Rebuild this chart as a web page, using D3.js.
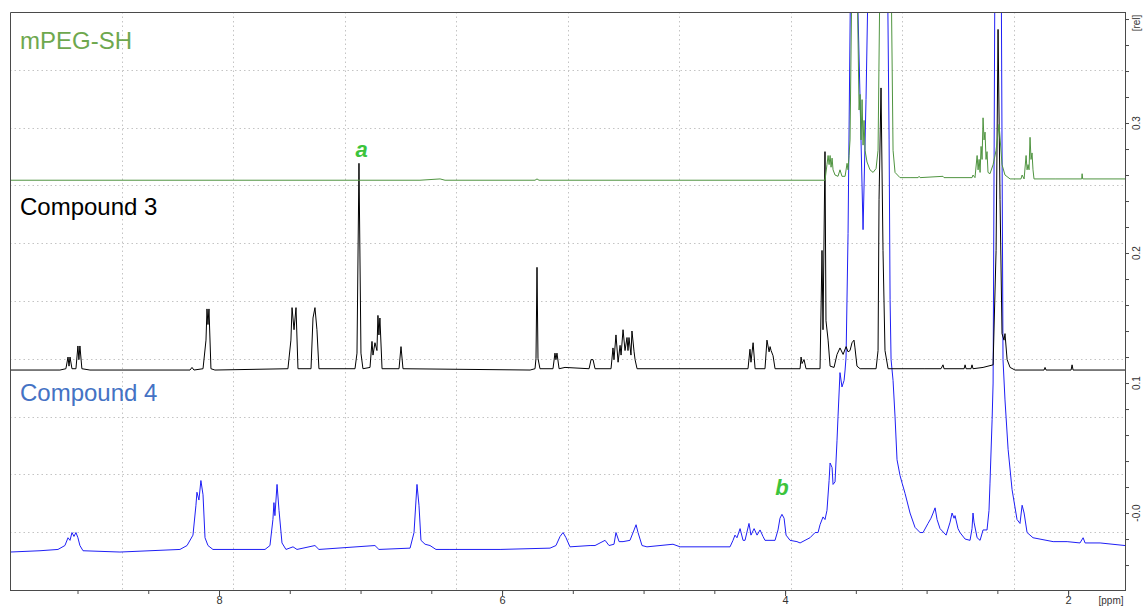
<!DOCTYPE html>
<html>
<head>
<meta charset="utf-8">
<script src="https://cdn.jsdelivr.net/npm/d3@7"></script>
<style>
  body { margin: 0; background: #fff; }
  svg { display: block; font-family: "Liberation Sans", Arial, sans-serif; }
</style>
</head>
<body>
<svg width="1143" height="606"></svg>
<script>
// plot limits
const ppmRange = [9.477, 1.598];
const relRange = [-0.0592, 0.3854];

const ppmLabels = [8, 6, 4, 2];
const relLabels = [0.3, 0.2, 0.1, 0.0];

// spectra: [ppm, rel]
const mpegSH = [[9.477,0.256],[6.580,0.256],[6.438,0.257],[6.403,0.256],[5.767,0.256],[5.753,0.257],[5.739,0.256],[3.718,0.256],[3.704,0.268],[3.696,0.275],[3.689,0.268],[3.682,0.275],[3.675,0.266],[3.668,0.273],[3.661,0.264],[3.647,0.260],[3.626,0.259],[3.612,0.264],[3.598,0.259],[3.576,0.259],[3.562,0.269],[3.555,0.264],[3.548,0.275],[3.541,0.287],[3.527,0.42],[3.492,0.42],[3.477,0.310],[3.470,0.322],[3.463,0.287],[3.456,0.318],[3.449,0.283],[3.442,0.302],[3.435,0.279],[3.421,0.270],[3.400,0.264],[3.378,0.262],[3.357,0.265],[3.343,0.279],[3.329,0.42],[3.251,0.42],[3.237,0.279],[3.223,0.262],[3.188,0.258],[3.117,0.258],[3.060,0.258],[3.053,0.259],[3.046,0.258],[2.884,0.259],[2.877,0.258],[2.679,0.258],[2.672,0.260],[2.658,0.258],[2.643,0.275],[2.636,0.264],[2.629,0.272],[2.622,0.262],[2.615,0.282],[2.608,0.272],[2.601,0.304],[2.594,0.287],[2.587,0.293],[2.580,0.272],[2.573,0.278],[2.566,0.262],[2.552,0.261],[2.530,0.268],[2.509,0.279],[2.488,0.299],[2.467,0.268],[2.446,0.260],[2.410,0.257],[2.333,0.257],[2.325,0.260],[2.311,0.257],[2.297,0.275],[2.290,0.264],[2.283,0.268],[2.276,0.264],[2.269,0.289],[2.262,0.272],[2.255,0.277],[2.248,0.264],[2.241,0.257],[2.092,0.257],[1.904,0.257],[1.901,0.261],[1.897,0.257],[1.598,0.257]];

const compound3 = [[9.477,0.110],[9.124,0.110],[9.082,0.111],[9.067,0.120],[9.060,0.113],[9.053,0.120],[9.039,0.111],[9.011,0.111],[8.997,0.1285],[8.990,0.118],[8.983,0.1285],[8.969,0.111],[8.912,0.110],[8.205,0.110],[8.191,0.112],[8.177,0.110],[8.113,0.111],[8.092,0.133],[8.085,0.157],[8.078,0.145],[8.071,0.157],[8.057,0.111],[8.029,0.110],[7.513,0.111],[7.492,0.133],[7.484,0.158],[7.470,0.141],[7.456,0.158],[7.442,0.111],[7.350,0.111],[7.336,0.150],[7.322,0.158],[7.308,0.141],[7.294,0.111],[7.039,0.111],[7.025,0.123],[7.011,0.269],[6.997,0.123],[6.983,0.111],[6.933,0.112],[6.919,0.132],[6.912,0.1215],[6.898,0.131],[6.884,0.125],[6.877,0.152],[6.870,0.137],[6.863,0.150],[6.848,0.111],[6.728,0.111],[6.714,0.128],[6.700,0.111],[5.802,0.110],[5.767,0.111],[5.760,0.119],[5.753,0.189],[5.746,0.119],[5.732,0.111],[5.640,0.111],[5.626,0.123],[5.619,0.118],[5.612,0.123],[5.597,0.111],[5.555,0.112],[5.385,0.111],[5.371,0.118],[5.357,0.118],[5.343,0.111],[5.230,0.111],[5.216,0.127],[5.209,0.118],[5.195,0.137],[5.180,0.116],[5.166,0.129],[5.159,0.1215],[5.145,0.141],[5.131,0.125],[5.117,0.135],[5.110,0.125],[5.103,0.135],[5.089,0.1215],[5.082,0.140],[5.067,0.124],[5.060,0.118],[5.046,0.111],[4.262,0.111],[4.248,0.126],[4.241,0.116],[4.226,0.131],[4.212,0.111],[4.142,0.111],[4.128,0.133],[4.113,0.124],[4.106,0.128],[4.099,0.125],[4.085,0.121],[4.071,0.111],[3.894,0.111],[3.887,0.120],[3.880,0.115],[3.866,0.118],[3.852,0.111],[3.753,0.111],[3.739,0.202],[3.732,0.141],[3.718,0.278],[3.711,0.148],[3.696,0.133],[3.682,0.113],[3.654,0.112],[3.633,0.122],[3.612,0.127],[3.590,0.122],[3.569,0.128],[3.555,0.124],[3.541,0.125],[3.527,0.131],[3.513,0.133],[3.506,0.127],[3.492,0.113],[3.470,0.111],[3.357,0.111],[3.343,0.125],[3.336,0.241],[3.322,0.327],[3.308,0.202],[3.294,0.125],[3.272,0.111],[3.018,0.111],[2.898,0.111],[2.884,0.114],[2.877,0.111],[2.735,0.111],[2.728,0.114],[2.721,0.111],[2.686,0.111],[2.679,0.114],[2.672,0.111],[2.601,0.112],[2.530,0.114],[2.509,0.202],[2.495,0.372],[2.481,0.241],[2.467,0.138],[2.453,0.133],[2.446,0.138],[2.431,0.118],[2.410,0.112],[2.375,0.110],[2.170,0.110],[2.163,0.112],[2.156,0.110],[1.979,0.110],[1.972,0.114],[1.965,0.110],[1.598,0.110]];

const compound4 = [[9.477,-0.030],[9.265,-0.029],[9.138,-0.028],[9.089,-0.025],[9.067,-0.019],[9.053,-0.021],[9.039,-0.015],[9.025,-0.018],[9.011,-0.015],[8.997,-0.019],[8.983,-0.025],[8.961,-0.029],[8.700,-0.030],[8.276,-0.028],[8.226,-0.025],[8.184,-0.017],[8.163,0.006],[8.156,0.016],[8.142,0.010],[8.128,0.025],[8.113,0.014],[8.099,-0.019],[8.078,-0.025],[8.043,-0.028],[7.675,-0.028],[7.640,-0.025],[7.619,-0.005],[7.612,0.008],[7.605,-0.002],[7.590,0.022],[7.576,0.002],[7.555,-0.023],[7.527,-0.028],[7.477,-0.026],[7.449,-0.028],[7.322,-0.025],[7.294,-0.028],[6.898,-0.025],[6.870,-0.028],[6.650,-0.027],[6.622,-0.015],[6.608,0.010],[6.601,0.022],[6.587,0.006],[6.573,-0.021],[6.544,-0.024],[6.509,-0.025],[6.467,-0.028],[6.368,-0.028],[6.014,-0.028],[5.661,-0.027],[5.619,-0.025],[5.590,-0.018],[5.569,-0.015],[5.548,-0.019],[5.520,-0.026],[5.378,-0.025],[5.343,-0.025],[5.272,-0.021],[5.244,-0.025],[5.209,-0.024],[5.195,-0.015],[5.173,-0.022],[5.145,-0.022],[5.096,-0.021],[5.067,-0.013],[5.053,-0.009],[5.039,-0.015],[5.011,-0.025],[4.976,-0.026],[4.792,-0.024],[4.742,-0.026],[4.389,-0.026],[4.368,-0.021],[4.354,-0.017],[4.340,-0.019],[4.318,-0.012],[4.297,-0.021],[4.283,-0.021],[4.255,-0.008],[4.241,-0.017],[4.219,-0.012],[4.198,-0.017],[4.177,-0.013],[4.156,-0.018],[4.142,-0.021],[4.071,-0.021],[4.050,-0.013],[4.036,-0.004],[4.022,-0.001],[4.007,-0.004],[3.993,-0.017],[3.965,-0.021],[3.916,-0.022],[3.894,-0.023],[3.859,-0.021],[3.824,-0.019],[3.788,-0.015],[3.767,-0.015],[3.753,-0.009],[3.732,-0.003],[3.718,-0.005],[3.704,0.002],[3.689,0.025],[3.682,0.0385],[3.668,0.035],[3.661,0.022],[3.647,0.024],[3.633,0.056],[3.626,0.074],[3.612,0.108],[3.598,0.097],[3.583,0.102],[3.576,0.110],[3.569,0.120],[3.555,0.215],[3.534,0.45],[3.499,0.45],[3.470,0.318],[3.449,0.218],[3.428,0.318],[3.407,0.45],[3.279,0.45],[3.265,0.287],[3.258,0.164],[3.251,0.118],[3.237,0.102],[3.223,0.074],[3.209,0.041],[3.188,0.029],[3.173,0.023],[3.152,0.015],[3.117,0.000],[3.082,-0.011],[3.046,-0.015],[3.025,-0.015],[2.990,-0.008],[2.969,-0.004],[2.954,0.000],[2.940,0.004],[2.926,-0.005],[2.905,-0.012],[2.862,-0.017],[2.834,-0.007],[2.820,0.000],[2.806,-0.004],[2.799,-0.002],[2.778,-0.012],[2.764,-0.015],[2.728,-0.020],[2.693,-0.021],[2.679,-0.012],[2.672,0.000],[2.665,-0.007],[2.643,-0.019],[2.622,-0.021],[2.601,-0.013],[2.573,-0.013],[2.559,0.002],[2.552,0.023],[2.537,0.072],[2.530,0.100],[2.516,0.45],[2.474,0.45],[2.460,0.118],[2.446,0.087],[2.424,0.049],[2.396,0.018],[2.361,-0.005],[2.340,-0.008],[2.325,0.006],[2.311,0.000],[2.290,-0.015],[2.248,-0.019],[2.106,-0.022],[2.007,-0.022],[1.916,-0.023],[1.894,-0.019],[1.880,-0.023],[1.774,-0.023],[1.598,-0.025]];

// trace names and peak letters
const traceNames = ["mPEG-SH", "Compound 3", "Compound 4"];
const peakNotes = [{ label: "a", ppm: 6.993, rel: 0.2735 }, { label: "b", ppm: 4.022, rel: 0.0135 }];

function drawSpectra() {
    let svg = d3.select("svg");
    svg.selectAll('*').remove();

    let area = { left: 10, right: 1125, top: 12, bottom: 590 };

    let scX = d3.scaleLinear().domain(ppmRange).range([area.left, area.right]);
    let scY = d3.scaleLinear().domain(relRange).range([area.bottom, area.top]);

    // off-scale peaks are cut at the frame
    svg.append("defs").append("clipPath")
        .attr("id", "plot-clip")
        .append("rect")
        .attr("x", area.left).attr("y", area.top)
        .attr("width", area.right - area.left)
        .attr("height", area.bottom - area.top);

    drawGrid(svg, area);

    const lineGen = d3.line()
        .x(d => scX(d[0]))
        .y(d => scY(d[1]));

    const traces = [
        { data: compound4, color: "#1f1ff5" },
        { data: compound3, color: "#000000" },
        { data: mpegSH, color: "#4f9440" }
    ];
    let gLines = svg.append("g").attr("clip-path", "url(#plot-clip)");
    traces.forEach(t => {
        gLines.append("path")
            .datum(t.data)
            .attr("d", lineGen)
            .style("fill", "none")
            .style("stroke", t.color)
            .style("stroke-width", 1)
            .style("stroke-linejoin", "round");
    });

    drawAxes(svg, area, scX, scY);

    // trace titles
    const titleColors = ["#6ea84e", "#000000", "#4472c4"];
    const titleY = [49, 215, 401];
    traceNames.forEach((name, i) => {
        svg.append("text")
            .attr("x", 20)
            .attr("y", titleY[i])
            .style("font-size", "24px")
            .style("fill", titleColors[i])
            .text(name);
    });

    // peak letters
    svg.selectAll(".note")
        .data(peakNotes)
        .enter()
        .append("text")
        .attr("x", d => scX(d.ppm))
        .attr("y", d => scY(d.rel))
        .attr("text-anchor", "middle")
        .style("font-size", "22px")
        .style("font-weight", "bold")
        .style("font-style", "italic")
        .style("fill", "#3cc43c")
        .text(d => d.label);
}

function drawGrid(svg, area) {
    // TopSpin style grid: 10 equal divisions of the frame
    let gx = d3.scaleLinear().domain([0, 10]).range([area.left, area.right]);
    let gy = d3.scaleLinear().domain([0, 10]).range([area.top, area.bottom]);
    let g = svg.append("g")
        .style("stroke", "#c4c4c4")
        .style("stroke-width", 1)
        .style("stroke-dasharray", "1.5,3");
    d3.range(1, 10).forEach(i => {
        g.append("line")
            .attr("x1", Math.round(gx(i)) + 0.5).attr("x2", Math.round(gx(i)) + 0.5)
            .attr("y1", area.top).attr("y2", area.bottom);
        g.append("line")
            .attr("x1", area.left).attr("x2", area.right)
            .attr("y1", Math.round(gy(i)) + 0.5).attr("y2", Math.round(gy(i)) + 0.5);
    });
}

function drawAxes(svg, area, scX, scY) {
    const axisColor = "#4a4a4a";

    // frame: left and top
    svg.append("path")
        .attr("d", `M${area.left + 0.5},${area.bottom} V${area.top + 0.5} H${area.right}`)
        .style("fill", "none")
        .style("stroke", axisColor);

    // bottom axis, ticks every 0.5 ppm
    let axisX = d3.axisBottom(scX)
        .tickValues(d3.range(4, 19).map(i => i * 0.5))
        .tickSize(4)
        .tickSizeOuter(0)
        .tickFormat("");
    let gX = svg.append("g")
        .attr("transform", `translate(0, ${area.bottom})`)
        .call(axisX);
    gX.select(".domain").attr("d", `M${area.left},0.5H${area.right + 1}`);
    gX.selectAll("line, path").style("stroke", axisColor);

    let gXl = svg.append("g")
        .attr("transform", `translate(0, ${area.bottom})`)
        .call(d3.axisBottom(scX).tickValues(ppmLabels).tickSize(6).tickPadding(0).tickFormat(d3.format("d")));
    gXl.select(".domain").remove();
    gXl.selectAll("line").style("stroke", axisColor);
    gXl.selectAll("text").style("font-size", "11px").style("fill", "#333");

    svg.append("text")
        .attr("x", 1111).attr("y", 604)
        .attr("text-anchor", "middle")
        .style("font-size", "10px")
        .style("fill", "#333")
        .text("[ppm]");

    // right axis, ticks every 0.02
    let axisY = d3.axisRight(scY)
        .tickValues(d3.range(-2, 20).map(i => i * 0.02))
        .tickSize(4)
        .tickSizeOuter(0)
        .tickFormat("");
    let gY = svg.append("g")
        .attr("transform", `translate(${area.right}, 0)`)
        .call(axisY);
    gY.select(".domain").attr("d", `M0.5,${area.top}V${area.bottom + 1}`);
    gY.selectAll("line, path").style("stroke", axisColor);

    svg.selectAll(".rel-label")
        .data(relLabels)
        .enter()
        .append("text")
        .attr("transform", d => `translate(${area.right + 15}, ${scY(d)}) rotate(-90)`)
        .attr("text-anchor", "middle")
        .style("font-size", "10px")
        .style("fill", "#333")
        .text(d => d === 0 ? "-0.0" : d3.format(".1f")(d));

    svg.append("text")
        .attr("transform", `translate(${area.right + 15}, 23) rotate(-90)`)
        .attr("text-anchor", "middle")
        .style("font-size", "10px")
        .style("fill", "#333")
        .text("[rel]");
}

drawSpectra();
</script>
</body>
</html>
